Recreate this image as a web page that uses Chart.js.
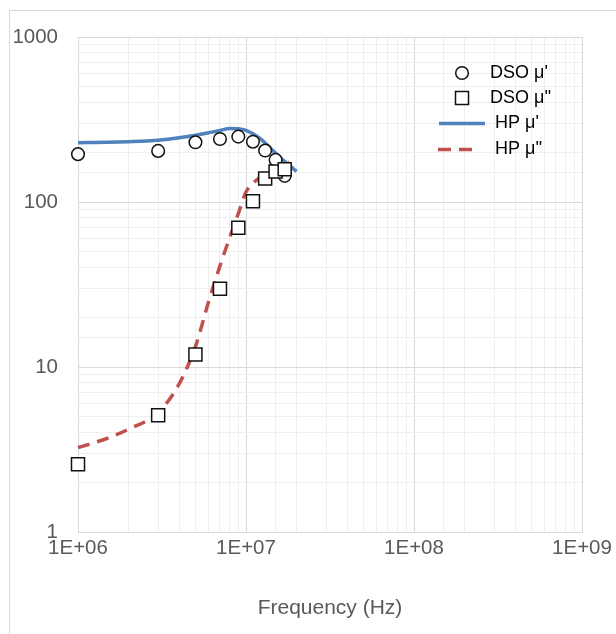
<!DOCTYPE html>
<html>
<head>
<meta charset="utf-8">
<script src="https://cdn.jsdelivr.net/npm/chart.js@4.4.1/dist/chart.umd.min.js"></script>
<style>
  html, body { margin: 0; padding: 0; background: #fff; }
  #wrap { width: 616px; height: 634px; position: relative; }
</style>
</head>
<body>
<div id="wrap"><canvas id="myChart"></canvas></div>
<script>
// measured data (DSO)
const dsoFreq = [1e6, 3e6, 5e6, 7e6, 9e6, 1.1e7, 1.3e7, 1.5e7, 1.7e7];
const dsoMuReal = [195, 204, 230, 241, 249, 232, 205, 180, 144];
const dsoMuImag = [2.57, 5.1, 11.9, 29.8, 69.9, 101, 139, 153, 158];

// HP analyser curves
const hpFreq = [1e6, 1.5e6, 2e6, 3e6, 4e6, 5e6, 6e6, 7e6, 8e6, 9e6, 1e7, 1.2e7, 1.4e7, 1.6e7, 1.8e7, 2e7];
const hpMuReal = [229, 230, 232, 237, 245, 254, 263, 271, 279, 278, 272, 245, 212, 186, 168, 153];
const hpMuImag = [3.25, 3.7, 4.2, 5.3, 7.9, 13.3, 25, 41, 61, 85, 115, 140, 157, 168, 175];

const xTicks = [1e6, 1e7, 1e8, 1e9];
const yTicks = [1, 10, 100, 1000];

const toPoints = (xs, ys) => ys.map((y, i) => ({ x: xs[i], y: y }));
const isMajor = v => Math.abs(Math.log10(v) - Math.round(Math.log10(v))) < 1e-9;

const textColor = '#595959';
const axisFont = { family: "'Liberation Sans', Arial, sans-serif", size: 20.5 };

const frame = {
    id: 'frame',
    beforeDraw(chart) {
        const c = chart.ctx;
        c.save();
        c.strokeStyle = '#d9d9d9';
        c.lineWidth = 1;
        c.strokeRect(9.5, 10.5, 800, 800);
        c.restore();
    }
};

const legendBox = {
    id: 'legendBox',
    afterDraw(chart) {
        const c = chart.ctx;
        c.save();
        c.font = "18px 'Liberation Sans', Arial, sans-serif";
        c.textBaseline = 'middle';

        c.beginPath();
        c.arc(462, 73, 6.3, 0, Math.PI * 2);
        c.fillStyle = '#fff';
        c.fill();
        c.lineWidth = 1.5;
        c.strokeStyle = '#111';
        c.stroke();

        c.fillStyle = '#fff';
        c.fillRect(455.5, 91.5, 13, 13);
        c.strokeRect(455.5, 91.5, 13, 13);

        c.lineWidth = 3.5;
        c.strokeStyle = '#4F81BD';
        c.beginPath();
        c.moveTo(439, 123.5);
        c.lineTo(485, 123.5);
        c.stroke();

        c.strokeStyle = '#C0504D';
        c.setLineDash([13, 8]);
        c.beginPath();
        c.moveTo(438, 149.5);
        c.lineTo(478, 149.5);
        c.stroke();
        c.setLineDash([]);

        c.fillStyle = '#000';
        c.fillText("DSO \u03bc'", 490, 73);
        c.fillText("DSO \u03bc''", 490, 98);
        c.fillText("HP \u03bc'", 495, 123);
        c.fillText("HP \u03bc''", 495, 149);
        c.restore();
    }
};

new Chart(document.getElementById('myChart'), {
    type: 'scatter',
    data: {
        datasets: [{
            label: "DSO \u03bc''",
            data: toPoints(dsoFreq, dsoMuImag),
            pointStyle: 'rect',
            pointRadius: 9.2,
            pointBorderWidth: 1.5,
            pointBorderColor: '#111',
            pointBackgroundColor: '#fff',
            clip: false,
            order: 0
        }, {
            label: "DSO \u03bc'",
            data: toPoints(dsoFreq, dsoMuReal),
            pointStyle: 'circle',
            pointRadius: 6.3,
            pointBorderWidth: 1.5,
            pointBorderColor: '#111',
            pointBackgroundColor: '#fff',
            clip: false,
            order: 1
        }, {
            label: "HP \u03bc'",
            data: toPoints(hpFreq, hpMuReal),
            showLine: true,
            borderColor: '#4F81BD',
            borderWidth: 3.5,
            pointRadius: 0,
            cubicInterpolationMode: 'monotone',
            clip: false,
            order: 2
        }, {
            label: "HP \u03bc''",
            data: toPoints(hpFreq, hpMuImag),
            showLine: true,
            borderColor: '#C0504D',
            borderWidth: 3.5,
            borderDash: [12, 8],
            pointRadius: 0,
            cubicInterpolationMode: 'monotone',
            clip: false,
            order: 3
        }]
    },
    options: {
        responsive: true,
        maintainAspectRatio: false,
        animation: false,
        layout: { padding: { top: 37, left: 8, right: 34, bottom: 0 } },
        plugins: {
            legend: { display: false },
            tooltip: { enabled: false }
        },
        scales: {
            x: {
                type: 'logarithmic',
                min: xTicks[0],
                max: xTicks[xTicks.length - 1],
                afterFit: s => { s.height = 102; },
                grid: {
                    drawTicks: false,
                    color: c => isMajor(c.tick.value) ? '#d9d9d9' : '#efefef'
                },
                border: { color: '#d9d9d9' },
                ticks: {
                    autoSkip: false,
                    maxRotation: 0,
                    padding: 4,
                    color: textColor,
                    font: axisFont,
                    callback: v => xTicks.includes(v) ? '1E+' + String(Math.round(Math.log10(v))).padStart(2, '0') : ''
                },
                title: {
                    display: true,
                    text: 'Frequency (Hz)',
                    color: textColor,
                    font: { family: axisFont.family, size: 21 },
                    padding: { bottom: 13 }
                }
            },
            y: {
                type: 'logarithmic',
                min: yTicks[0],
                max: yTicks[yTicks.length - 1],
                afterFit: s => { s.width = 70; },
                grid: {
                    drawTicks: false,
                    color: c => isMajor(c.tick.value) ? '#d9d9d9' : '#efefef'
                },
                border: { color: '#d9d9d9' },
                ticks: {
                    autoSkip: false,
                    padding: 20,
                    color: textColor,
                    font: axisFont,
                    callback: v => yTicks.includes(v) ? String(v) : ''
                }
            }
        }
    },
    plugins: [frame, legendBox]
});
</script>
</body>
</html>
